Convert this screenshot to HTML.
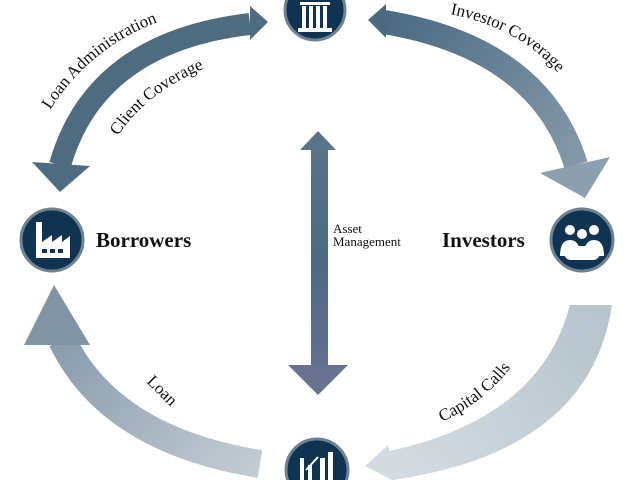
<!DOCTYPE html>
<html><head><style>
html,body{margin:0;padding:0;background:#fff;width:640px;height:480px;overflow:hidden}
svg{display:block}
text{font-family:"Liberation Serif",serif;fill:#111}
</style></head><body>
<svg width="640" height="480" viewBox="0 0 640 480">
<defs>
<linearGradient id="gtr" x1="380" y1="20" x2="600" y2="190" gradientUnits="userSpaceOnUse">
<stop offset="0" stop-color="#4b6981"/><stop offset="1" stop-color="#8ba0b0"/></linearGradient>
<linearGradient id="gbr" x1="590" y1="305" x2="370" y2="470" gradientUnits="userSpaceOnUse">
<stop offset="0" stop-color="#b7c4cd"/><stop offset="1" stop-color="#d6dde2"/></linearGradient>
<linearGradient id="gbl" x1="260" y1="465" x2="55" y2="290" gradientUnits="userSpaceOnUse">
<stop offset="0" stop-color="#c3ccd4"/><stop offset="1" stop-color="#7f95a6"/></linearGradient>
<linearGradient id="gv" x1="0" y1="130" x2="0" y2="395" gradientUnits="userSpaceOnUse">
<stop offset="0" stop-color="#5a7489"/><stop offset="0.5" stop-color="#4d6a80"/><stop offset="1" stop-color="#66728f"/></linearGradient>
<path id="p1" d="M50,110 Q100,32 192,12"/>
<path id="p2" d="M118,136 Q150,86 226,60"/>
<path id="p3" d="M450,14 Q540,32 578,102"/>
<path id="p4" d="M442,422 Q496,396 524,348"/>
</defs>

<path d="M250,24 Q95,42 60,165" fill="none" stroke="#4f6b80" stroke-width="22"/>
<polygon points="250,6 268,22 250,40" fill="#4f6b80"/>
<polygon points="32,162 90,166 60,192" fill="#4f6b80"/>

<path d="M384,22 Q540,48 576,165" fill="none" stroke="url(#gtr)" stroke-width="24"/>
<polygon points="386,4 368,20 386,38" fill="#4b6981"/>
<polygon points="540,173 610,157 585,198" fill="#8a9faf"/>

<path d="M570,305 L612,305 Q590,452 392,480 L385,452 Q540,420 570,305 Z" fill="url(#gbr)"/>
<polygon points="388,445 396,482 365,466" fill="#d3dae0"/>

<path d="M260,464 Q110,440 62,340" fill="none" stroke="url(#gbl)" stroke-width="28"/>
<polygon points="24,345 90,345 54,285" fill="#7f95a6"/>

<rect x="311" y="148" width="17" height="220" fill="url(#gv)"/>
<polygon points="300,150 336,150 318,131" fill="#5a7489"/>
<polygon points="288,365 348,365 318,395" fill="#66728f"/>

<g stroke="#6f8292" stroke-width="3" fill="#0f3350">
<circle cx="315" cy="10" r="30"/>
<circle cx="52" cy="240" r="31"/>
<circle cx="582" cy="240" r="31"/>
<circle cx="317" cy="470" r="31"/>
</g>
<g fill="#fff">
<rect x="302" y="6" width="4" height="22"/><rect x="309" y="6" width="4" height="22"/><rect x="316" y="6" width="4" height="22"/><rect x="323" y="6" width="4" height="22"/>
<rect x="298" y="28" width="34" height="4"/><rect x="300" y="2" width="30" height="3"/>
<path d="M36,258 L36,222 L42,222 L42,242 L52,235 L52,242 L62,235 L62,242 L70,236 L70,258 Z"/>
<rect x="564" y="246" width="36" height="14" rx="7"/>
<circle cx="570" cy="230" r="5"/><circle cx="594" cy="230" r="5"/>
<path d="M560,256 Q560,240 570,240 Q580,240 580,256Z"/><path d="M584,256 Q584,240 594,240 Q604,240 604,256Z"/>
<circle cx="582" cy="234" r="6" stroke="#0f3350" stroke-width="2"/>
<rect x="300" y="458" width="4" height="22"/><rect x="320" y="458" width="5" height="22"/><rect x="328" y="452" width="5" height="28"/><rect x="308" y="465" width="4" height="15"/>
<path d="M306,470 L318,457" stroke="#fff" stroke-width="2"/>
</g>
<g fill="#0f3350"><rect x="42" y="249" width="5" height="4"/><rect x="50" y="249" width="5" height="4"/><rect x="58" y="249" width="5" height="4"/></g>

<text font-size="17"><textPath href="#p1">Loan Administration</textPath></text>
<text font-size="17"><textPath href="#p2">Client Coverage</textPath></text>
<text font-size="17"><textPath href="#p3">Investor Coverage</textPath></text>
<text font-size="17"><textPath href="#p4">Capital Calls</textPath></text>
<text font-size="17" transform="translate(146,382) rotate(45)">Loan</text>
<text x="96" y="247" font-size="21" font-weight="bold">Borrowers</text>
<text x="442" y="247" font-size="21" font-weight="bold">Investors</text>
<text x="333" y="233" font-size="13">Asset</text>
<text x="333" y="246" font-size="13">Management</text>
</svg>
</body></html>
